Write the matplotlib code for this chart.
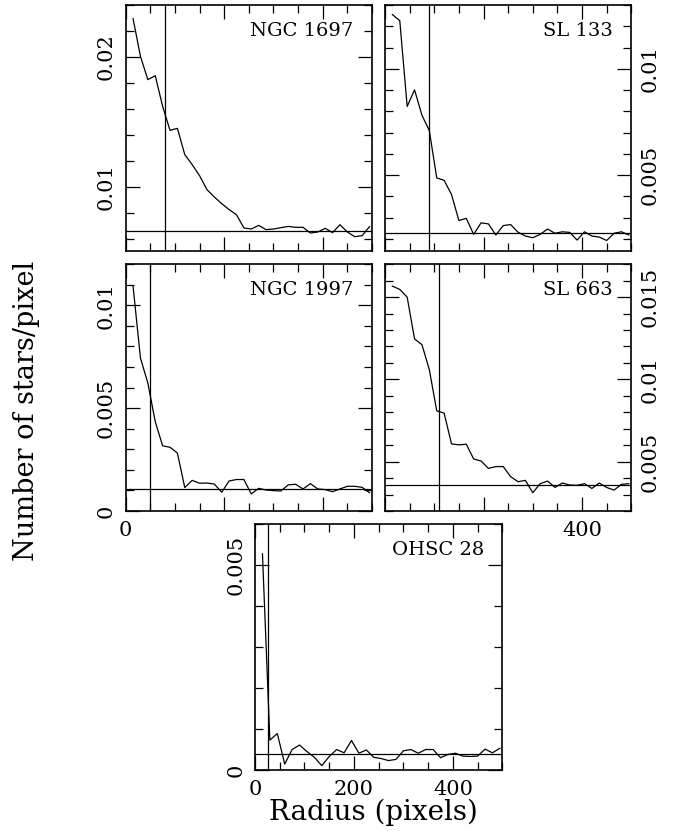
import matplotlib
matplotlib.use("Agg")
import matplotlib.pyplot as plt
from matplotlib.ticker import MultipleLocator, FuncFormatter

plt.rcParams['font.family'] = ['DejaVu Serif']

# radius of each annulus (pixels)
radius = [15, 30, 45, 60, 75, 90, 105, 120, 135, 150, 165, 180, 195, 210, 225, 240, 255,
          270, 285, 300, 315, 330, 345, 360, 375, 390, 405, 420, 435, 450, 465, 480, 495]

ngc1697 = [0.02295, 0.02005, 0.01826, 0.01856, 0.01621, 0.01436, 0.01451, 0.01249, 0.01172,
           0.01087, 0.00980, 0.00923, 0.00872, 0.00826, 0.00787, 0.00685, 0.00677, 0.00705,
           0.00672, 0.00677, 0.00687, 0.00697, 0.00690, 0.00690, 0.00646, 0.00654, 0.00682,
           0.00649, 0.00710, 0.00654, 0.00618, 0.00626, 0.00695]
sl133 = [0.01255, 0.01226, 0.00823, 0.00901, 0.00782, 0.00709, 0.00487, 0.00476, 0.00409,
         0.00287, 0.00297, 0.00222, 0.00276, 0.00271, 0.00219, 0.00263, 0.00268, 0.00232,
         0.00214, 0.00206, 0.00222, 0.00247, 0.00227, 0.00234, 0.00231, 0.00195, 0.00234,
         0.00214, 0.00209, 0.00193, 0.00227, 0.00234, 0.00219]
ngc1997 = [0.01093, 0.00744, 0.00622, 0.00435, 0.00317, 0.00310, 0.00282, 0.00114, 0.00149,
           0.00135, 0.00136, 0.00131, 0.00091, 0.00146, 0.00153, 0.00153, 0.00083, 0.00110,
           0.00102, 0.00099, 0.00097, 0.00127, 0.00130, 0.00107, 0.00133, 0.00107, 0.00104,
           0.00094, 0.00107, 0.00120, 0.00120, 0.00115, 0.00089]
sl663 = [0.01567, 0.01547, 0.01500, 0.01246, 0.01211, 0.01059, 0.00809, 0.00795, 0.00608,
         0.00602, 0.00606, 0.00516, 0.00504, 0.00459, 0.00470, 0.00470, 0.00409, 0.00378,
         0.00386, 0.00311, 0.00366, 0.00382, 0.00343, 0.00370, 0.00358, 0.00356, 0.00366,
         0.00337, 0.00370, 0.00343, 0.00327, 0.00362, 0.00366]
ohsc28 = [0.00528, 0.00073, 0.00089, 0.000146, 0.00050, 0.00061, 0.00045, 0.00031, 0.000106,
          0.00033, 0.00050, 0.00042, 0.00072, 0.00041, 0.00049, 0.00031, 0.00028, 0.00023,
          0.00026, 0.00047, 0.00050, 0.00041, 0.00050, 0.00050, 0.00030, 0.00038, 0.00041,
          0.00034, 0.00033, 0.00034, 0.00051, 0.00042, 0.00053]

names = ['NGC 1697', 'SL 133', 'NGC 1997', 'SL 663', 'OHSC 28']
profiles = [ngc1697, sl133, ngc1997, sl663, ohsc28]
cluster_radius = [80, 89, 49, 109, 26]
background = [0.00664, 0.00229, 0.00107, 0.00358, 0.00038]
ylims = [(0.0051, 0.0240), (0.00145, 0.0130), (0.0, 0.0120), (0.0020, 0.0170), (0.0, 0.0060)]
ymajor = [0.01, 0.005, 0.005, 0.005, 0.005]
yminor = [0.002, 0.001, 0.001, 0.001, 0.001]
xlabels_shown = [[], [], [0], [400], [0, 200, 400]]
right_side = [False, True, False, True, False]

# axes rectangles in figure fractions
boxes = [[0.184, 0.6983, 0.3606, 0.2957],
         [0.5637, 0.6983, 0.3606, 0.2957],
         [0.184, 0.3851, 0.3606, 0.2969],
         [0.5637, 0.3851, 0.3606, 0.2969],
         [0.3734, 0.0734, 0.3621, 0.2957]]

fig = plt.figure(figsize=(6.83, 8.31), dpi=100)

for i in range(5):
    ax = fig.add_axes(boxes[i])
    ax.plot(radius, profiles[i], color='black', linewidth=0.9)
    ax.axvline(cluster_radius[i], color='black', linewidth=0.9)
    ax.axhline(background[i], color='black', linewidth=0.9)
    ax.set_xlim(0, 500)
    ax.set_ylim(*ylims[i])

    ax.xaxis.set_major_locator(MultipleLocator(200))
    ax.xaxis.set_minor_locator(MultipleLocator(50))
    ax.yaxis.set_major_locator(MultipleLocator(ymajor[i]))
    ax.yaxis.set_minor_locator(MultipleLocator(yminor[i]))

    shown = xlabels_shown[i]
    ax.xaxis.set_major_formatter(FuncFormatter(
        lambda v, p, shown=shown: '%d' % round(v) if any(abs(v - s) < 1e-6 for s in shown) else ''))
    ax.yaxis.set_major_formatter(FuncFormatter(lambda v, p: '%g' % round(v, 6)))

    ax.tick_params(which='both', direction='in', top=True, right=True, width=0.9)
    ax.tick_params(which='major', length=10)
    ax.tick_params(which='minor', length=6)
    ax.tick_params(axis='x', labelsize=15, pad=7)
    ax.tick_params(axis='y', labelsize=15, pad=7, labelrotation=90)
    if right_side[i]:
        ax.tick_params(axis='y', labelleft=False, labelright=True)
    for lab in ax.get_yticklabels():
        lab.set_verticalalignment('center')
    for sp in ax.spines.values():
        sp.set_linewidth(1.2)

    ax.text(0.925, 0.895, names[i], transform=ax.transAxes, ha='right', va='center',
            fontsize=14, bbox=dict(facecolor='white', edgecolor='none', pad=1))

fig.text(0.039, 0.505, 'Number of stars/pixel', rotation=90, ha='center', va='center',
         fontsize=19.5)
fig.text(0.547, 0.022, 'Radius (pixels)', ha='center', va='center', fontsize=20)

fig.savefig('out.png', dpi=100)
